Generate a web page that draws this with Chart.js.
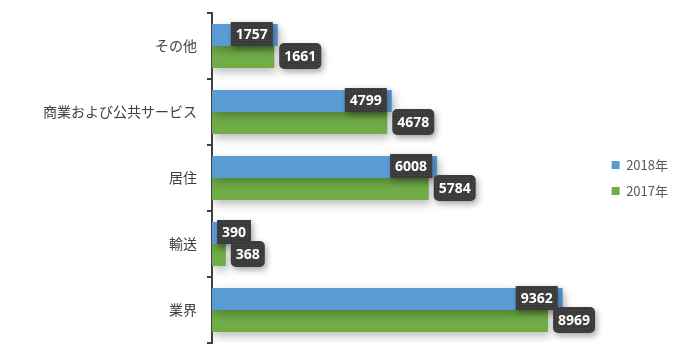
<!DOCTYPE html>
<html>
<head>
<meta charset="utf-8">
<script src="https://cdn.jsdelivr.net/npm/chart.js@4/dist/chart.umd.min.js"></script>
<style>
html,body{margin:0;padding:0;background:#fff;}
#wrap{width:681px;height:358px;position:relative;}
</style>
</head>
<body>
<div id="wrap"><canvas id="c" width="681" height="358"></canvas></div>
<script>
const categories = ["その他", "商業および公共サービス", "居住", "輸送", "業界"];
const series2018 = [1757, 4799, 6008, 390, 9362];
const series2017 = [1661, 4678, 5784, 368, 8969];
const seriesNames = ["2018年", "2017年"];

const JP_FONT = '"Noto Sans CJK JP", sans-serif';
const LABEL_FONT = 'bold 14px "Open Sans", "DejaVu Sans", sans-serif';

function makePattern(ctx){
  const p = document.createElement('canvas');
  p.width = 3; p.height = 3;
  const g = p.getContext('2d');
  g.fillStyle = '#3b3b3b'; g.fillRect(0,0,3,3);
  g.fillStyle = '#4d4d4d'; g.fillRect(1,1,1,1);
  return ctx.createPattern(p, 'repeat');
}

const shadowPlugin = {
  id: 'barShadow',
  beforeDatasetDraw(chart){
    const ctx = chart.ctx;
    ctx.save();
    ctx.shadowColor = 'rgba(0,0,0,0.28)';
    ctx.shadowBlur = 10;
    ctx.shadowOffsetX = 2;
    ctx.shadowOffsetY = 4;
  },
  afterDatasetDraw(chart){
    chart.ctx.restore();
  }
};

const labelPlugin = {
  id: 'boxLabels',
  afterDatasetsDraw(chart){
    const ctx = chart.ctx;
    const pat = makePattern(ctx);
    ctx.save();
    ctx.font = LABEL_FONT;
    chart.data.datasets.forEach((ds, di) => {
      const meta = chart.getDatasetMeta(di);
      meta.data.forEach((el, i) => {
        const p = el.getProps(['x','y','base'], true);
        const txt = String(ds.data[i]);
        const tw = ctx.measureText(txt).width;
        const w = Math.round(tw + 10);
        let x1, h, r;
        if (di === 0) {
          h = 24; r = 0;
          x1 = Math.max(p.x - 5 - w, p.base + 5);
        } else {
          h = 26; r = 5;
          x1 = p.x + 5;
        }
        const y1 = p.y - 1 - h/2;
        ctx.save();
        ctx.shadowColor = 'rgba(0,0,0,0.35)';
        ctx.shadowBlur = 6;
        ctx.shadowOffsetX = 2;
        ctx.shadowOffsetY = 3;
        ctx.fillStyle = pat;
        ctx.beginPath();
        if (r) ctx.roundRect(x1, y1, w, h, r); else ctx.rect(x1, y1, w, h);
        ctx.fill();
        ctx.restore();
        ctx.fillStyle = '#ffffff';
        ctx.textAlign = 'center';
        ctx.textBaseline = 'middle';
        ctx.fillText(txt, x1 + w/2, y1 + h/2 + 1);
      });
    });
    ctx.restore();
  }
};

function build(){
  new Chart(document.getElementById('c'), {
    type: 'bar',
    data: {
      labels: categories,
      datasets: [
        { label: seriesNames[0], data: series2018, backgroundColor: '#5B9BD5', borderWidth: 0 },
        { label: seriesNames[1], data: series2017, backgroundColor: '#70AD47', borderWidth: 0 }
      ]
    },
    options: {
      indexAxis: 'y',
      responsive: false,
      animation: false,
      devicePixelRatio: 1,
      layout: { padding: { left: 0, top: 13, bottom: 15, right: 3 } },
      datasets: { bar: { barPercentage: 1, categoryPercentage: 0.667 } },
      scales: {
        x: { display: false, min: 0, max: 10320 },
        y: {
          afterFit(scale){ scale.width = 212; scale.paddingTop = 0; scale.paddingBottom = 0; },
          grid: { offset: true, drawOnChartArea: false, drawTicks: true, tickLength: 5, color: '#404040', lineWidth: 2 },
          border: { display: true, color: '#404040', width: 2 },
          ticks: { color: '#404040', padding: 10, font: { family: JP_FONT, size: 14 } }
        }
      },
      plugins: {
        legend: {
          position: 'right',
          labels: {
            boxWidth: 8, boxHeight: 8, padding: 13, color: '#595959',
            font: { family: JP_FONT, size: 13 }
          }
        },
        tooltip: { enabled: false }
      }
    },
    plugins: [shadowPlugin, labelPlugin]
  });
}

Promise.all([
  document.fonts.load('14px "Noto Sans CJK JP"', '商業'),
  document.fonts.load('13px "Noto Sans CJK JP"', '2018年'),
  document.fonts.load(LABEL_FONT, '0123456789')
]).then(build, build);
</script>
</body>
</html>
